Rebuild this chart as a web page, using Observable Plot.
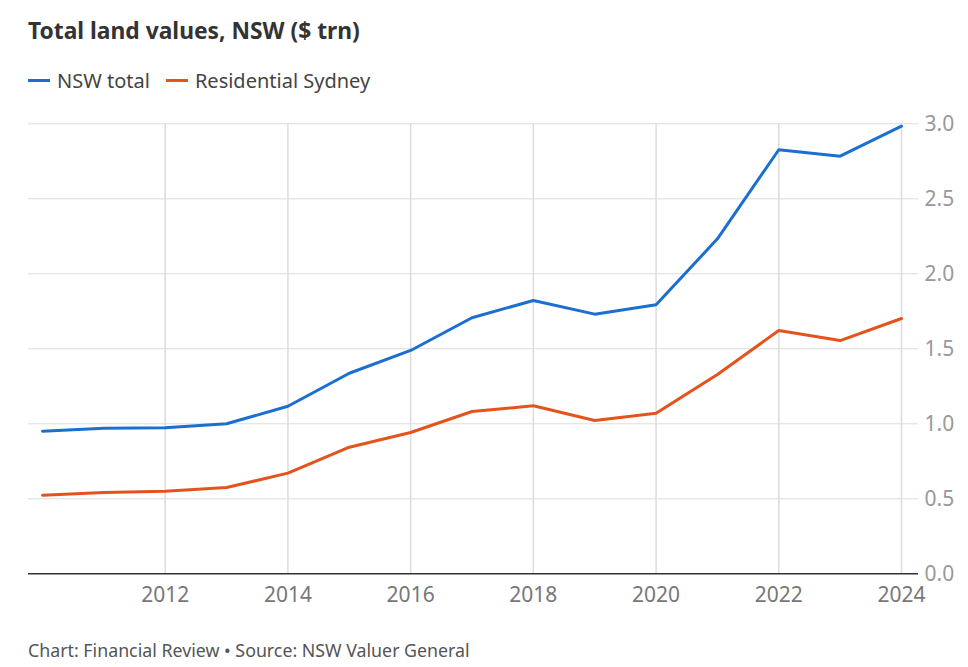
<!DOCTYPE html>
<html>
<head>
<meta charset="utf-8">
<script src="https://cdn.jsdelivr.net/npm/d3@7"></script>
<script src="https://cdn.jsdelivr.net/npm/@observablehq/plot@0.6"></script>
<style>
  html, body { margin: 0; padding: 0; background: #fff; }
  body { width: 968px; height: 667px; position: relative; font-family: "Noto Sans", sans-serif; overflow: hidden; }
  #title { position: absolute; left: 28px; top: 15px; font-size: 22.8px; font-weight: 700; color: #333; }
  #legend { position: absolute; left: 28px; top: 67px; font-size: 20px; color: #444; display: flex; gap: 16px; }
  #legend span.item { display: flex; align-items: center; }
  #legend span.sw { display: inline-block; width: 22px; height: 3px; margin-right: 7px; }
  #chart { position: absolute; left: 0; top: 105px; }
  #caption { position: absolute; left: 28px; top: 638px; font-size: 17.8px; color: #555; }
</style>
</head>
<body>
<div id="title">Total land values, NSW ($ trn)</div>
<div id="legend"></div>
<div id="chart"></div>
<div id="caption">Chart: Financial Review • Source: NSW Valuer General</div>
<script>
const years = [2010, 2011, 2012, 2013, 2014, 2015, 2016, 2017, 2018, 2019, 2020, 2021, 2022, 2023, 2024];
const nswTotal = [0.951, 0.971, 0.973, 1.0, 1.117, 1.337, 1.489, 1.707, 1.822, 1.731, 1.794, 2.233, 2.827, 2.784, 2.984];
const residentialSydney = [0.524, 0.542, 0.551, 0.575, 0.671, 0.844, 0.942, 1.082, 1.12, 1.022, 1.071, 1.329, 1.622, 1.555, 1.702];
const seriesNames = ["NSW total", "Residential Sydney"];
const seriesColors = ["#1a6fd0", "#e5531c"];
const xTicks = [2012, 2014, 2016, 2018, 2020, 2022, 2024];
const yTicks = [0, 0.5, 1, 1.5, 2, 2.5, 3];

const data = [];
years.forEach((y, i) => {
  data.push({year: y, value: nswTotal[i], series: seriesNames[0]});
  data.push({year: y, value: residentialSydney[i], series: seriesNames[1]});
});

const legend = document.getElementById("legend");
seriesNames.forEach((n, i) => {
  const s = document.createElement("span");
  s.className = "item";
  s.innerHTML = `<span class="sw" style="background:${seriesColors[i]}"></span>${n}`;
  legend.appendChild(s);
});

const plot = Plot.plot({
  width: 968,
  height: 515,
  marginLeft: 28,
  marginRight: 50,
  marginTop: 18.3,
  marginBottom: 46.7,
  insetLeft: 14,
  insetRight: 17,
  style: {fontFamily: "Noto Sans, sans-serif", fontSize: "21px", background: "#fff"},
  x: {domain: [2010, 2024], ticks: xTicks, tickFormat: d => String(d)},
  y: {domain: [0, 3], ticks: yTicks},
  color: {domain: seriesNames, range: seriesColors},
  marks: [
    Plot.ruleY(yTicks.filter(d => d > 0), {stroke: "#dcdcdc", strokeWidth: 1}),
    Plot.ruleX(xTicks, {y1: 0, y2: 3, stroke: "#dcdcdc", strokeWidth: 1.5}),
    Plot.axisX({ticks: xTicks, tickSize: 0, tickPadding: 13, fill: "#777", tickFormat: d => String(d), label: null}),
    Plot.axisY({anchor: "right", ticks: yTicks, tickSize: 0, tickPadding: 6, fill: "#999", tickFormat: d3.format(".1f"), label: null}),
    Plot.ruleY([0], {stroke: "#333", strokeWidth: 1.5}),
    Plot.line(data, {x: "year", y: "value", stroke: "series", strokeWidth: 3, z: "series"})
  ]
});
document.getElementById("chart").appendChild(plot);
</script>
</body>
</html>
